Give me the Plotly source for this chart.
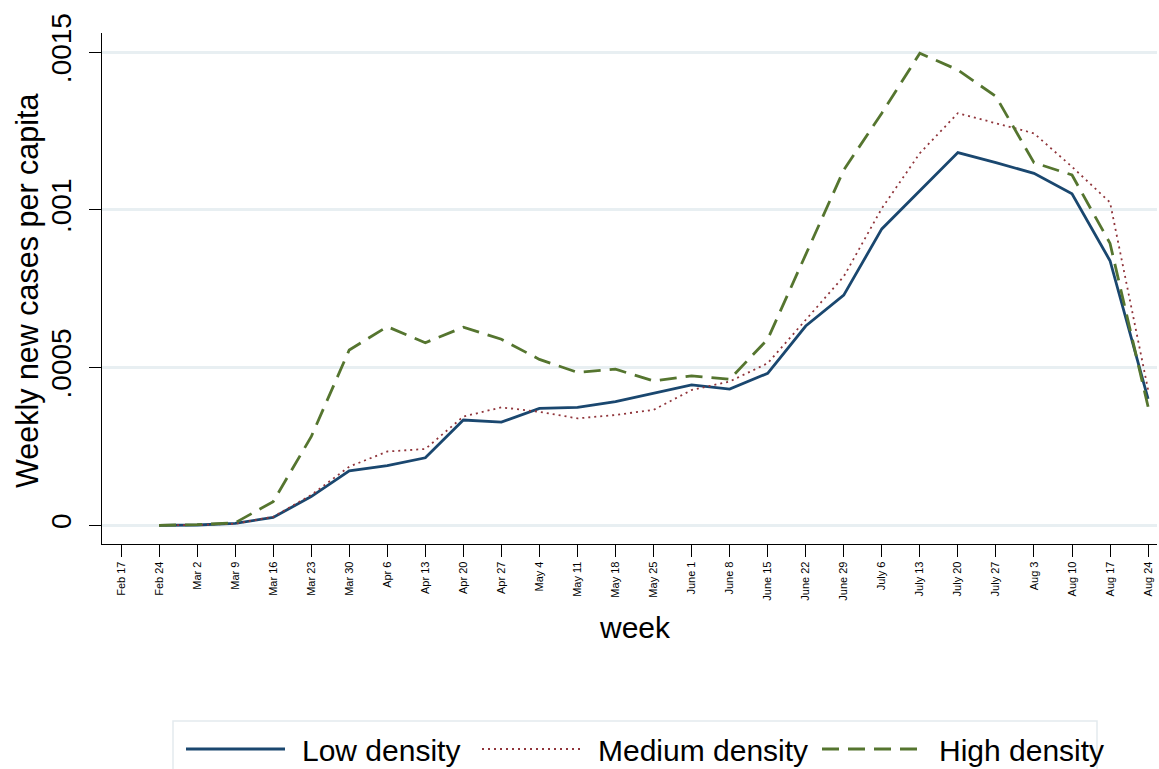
import plotly.graph_objects as go

# Weekly labels (week starting dates, 2020)
weeks = ["Feb 17", "Feb 24", "Mar 2", "Mar 9", "Mar 16", "Mar 23", "Mar 30",
         "Apr 6", "Apr 13", "Apr 20", "Apr 27", "May 4", "May 11", "May 18",
         "May 25", "June 1", "June 8", "June 15", "June 22", "June 29",
         "July 6", "July 13", "July 20", "July 27", "Aug 3", "Aug 10",
         "Aug 17", "Aug 24"]

# Series start at Feb 24 (index 1)
data_weeks = weeks[1:]

low_density = [0.0, 0.000001, 0.000006, 0.000025, 0.000091, 0.000173,
               0.000189, 0.000214, 0.000334, 0.000327, 0.000371, 0.000374,
               0.000392, 0.000419, 0.000445, 0.000432, 0.000482, 0.000632,
               0.000730, 0.000940, 0.001060, 0.001182, 0.001150, 0.001116,
               0.001051, 0.000839, 0.000401]

medium_density = [0.0, 0.000001, 0.000005, 0.000027, 0.000096, 0.000186,
                  0.000234, 0.000242, 0.000345, 0.000374, 0.000360, 0.000339,
                  0.000350, 0.000366, 0.000429, 0.000456, 0.000514, 0.000651,
                  0.000789, 0.001005, 0.001180, 0.001307, 0.001275, 0.001243,
                  0.001137, 0.001024, 0.000430]

high_density = [0.0, 0.000002, 0.000008, 0.000075, 0.000281, 0.000556,
                0.000630, 0.000579, 0.000628, 0.000590, 0.000526, 0.000485,
                0.000495, 0.000458, 0.000474, 0.000463, 0.000590, 0.000860,
                0.001127, 0.001307, 0.001497, 0.001444, 0.001360, 0.001150,
                0.001111, 0.000894, 0.000376]

y_ticks = [0, 0.0005, 0.001, 0.0015]
y_tick_text = ["0", ".0005", ".001", ".0015"]

series_names = ["Low density", "Medium density", "High density"]
colors = ["#1a476f", "#90353b", "#55752f"]

FONT = "Arial, Liberation Sans, Helvetica, sans-serif"
W, H = 1159, 769
L, R, T, B = 102, 2, 33, 225  # plot area margins in px

x_idx = list(range(len(weeks)))
data_x = [weeks.index(w) for w in data_weeks]

fig = go.Figure()
fig.add_trace(go.Scatter(x=data_x, y=low_density, mode="lines",
                         name=series_names[0],
                         line=dict(color=colors[0], width=2.8)))
fig.add_trace(go.Scatter(x=data_x, y=medium_density, mode="lines",
                         name=series_names[1],
                         line=dict(color=colors[1], width=1.8, dash="2px,4px")))
fig.add_trace(go.Scatter(x=data_x, y=high_density, mode="lines",
                         name=series_names[2],
                         line=dict(color=colors[2], width=2.8, dash="17px,9px")))

plot_w = W - L - R
plot_h = H - T - B


def px_x(px):
    return (px - L) / plot_w


def px_y(py):
    return (H - B - py) / plot_h


# Legend drawn below the plot inside a framed box
shapes = [
    dict(type="rect", xref="paper", yref="paper",
         x0=px_x(173), x1=px_x(1097), y0=px_y(800), y1=px_y(721),
         line=dict(color="#e3eaee", width=1.5), fillcolor="white", layer="below"),
]
legend_items = [
    (186, 285, 300),
    (482, 582, 596),
    (822, 922, 937),
]
dashes = ["solid", "2px,4px", "17px,9px"]
widths = [2.8, 1.8, 2.8]
annotations = []
for (x0, x1, xt), name, col, dsh, lw in zip(legend_items, series_names, colors, dashes, widths):
    shapes.append(dict(type="line", xref="paper", yref="paper",
                       x0=px_x(x0), x1=px_x(x1), y0=px_y(749), y1=px_y(749),
                       line=dict(color=col, width=lw, dash=dsh)))
    annotations.append(dict(text=name, xref="paper", yref="paper",
                            x=px_x(xt), y=px_y(750), xanchor="left", yanchor="middle",
                            showarrow=False, font=dict(size=30, color="black", family=FONT)))

# Axis titles
annotations.append(dict(text="Weekly new cases per capita", xref="paper", yref="paper",
                        x=px_x(27), y=px_y(291), textangle=-90,
                        xanchor="center", yanchor="middle", showarrow=False,
                        font=dict(size=30.5, color="black", family=FONT)))
annotations.append(dict(text="week", xref="paper", yref="paper",
                        x=px_x(635), y=px_y(627),
                        xanchor="center", yanchor="middle", showarrow=False,
                        font=dict(size=30, color="black", family=FONT)))

# Axis ranges: Feb 17 at x=121px, 38.04 px per week; y zero at 525.3px
px_per_week = 38.04
x_lo = -(121 - L) / px_per_week
x_hi = x_lo + plot_w / px_per_week
px_per_unit = 473 / 0.0015
y_lo = -(H - B - 525.3) / px_per_unit
y_hi = y_lo + plot_h / px_per_unit

fig.update_layout(
    width=W, height=H,
    margin=dict(l=L, r=R, t=T, b=B, pad=0),
    paper_bgcolor="white", plot_bgcolor="white",
    showlegend=False,
    font=dict(family=FONT, color="black"),
    shapes=shapes, annotations=annotations,
    xaxis=dict(
        range=[x_lo, x_hi], tickmode="array", tickvals=x_idx, ticktext=weeks,
        tickangle=-90, tickfont=dict(size=11, family=FONT, color="black"),
        ticks="outside", ticklen=12, tickwidth=1.3, tickcolor="black",
        showline=True, linecolor="black", linewidth=1.3,
        showgrid=False, zeroline=False, fixedrange=True,
    ),
    yaxis=dict(
        range=[y_lo, y_hi], tickmode="array", tickvals=y_ticks, ticktext=y_tick_text,
        tickangle=-90, tickfont=dict(size=28, family=FONT, color="black"),
        ticks="outside", ticklen=12, tickwidth=1.3, tickcolor="black",
        ticklabelstandoff=7,
        showline=True, linecolor="black", linewidth=1.3,
        showgrid=True, gridcolor="#e8eff2", gridwidth=2.5,
        zeroline=False, fixedrange=True,
    ),
)

fig.write_html("out.html")
